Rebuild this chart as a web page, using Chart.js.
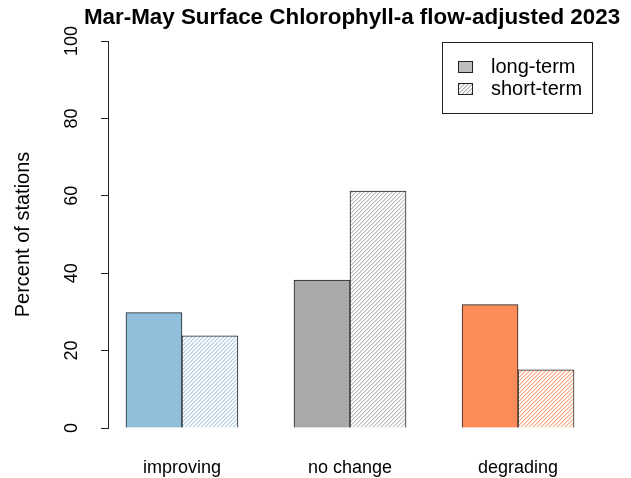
<!DOCTYPE html>
<html>
<head>
<meta charset="utf-8">
<script src="https://cdn.jsdelivr.net/npm/chart.js@4/dist/chart.umd.min.js"></script>
<style>
  html, body { margin: 0; padding: 0; background: #fff; }
  #wrap { width: 631px; height: 478px; }
</style>
</head>
<body>
<div id="wrap"><canvas id="myChart" width="631" height="478"></canvas></div>
<script>
const chartTitle = 'Mar-May Surface Chlorophyll-a flow-adjusted 2023';
const categories = ['improving', 'no change', 'degrading'];
const groupPos = [2, 5, 8]; // group centres in barplot units
const seriesNames = ['long-term', 'short-term'];
const longTerm = [29.8, 38.2, 31.9];
const shortTerm = [23.8, 61.2, 15.0];
const yTicks = [0, 20, 40, 60, 80, 100];
const barColors = ['#91BFDB', '#A9A9A9', '#FC8D59'];

const FONT = '"Liberation Sans", Arial, Helvetica, sans-serif';
const INK = '#222222';

// diagonal hatch like R's density/angle=45, built pixel by pixel
function hatch(color) {
  const c = document.createElement('canvas');
  c.width = 4; c.height = 4;
  const g = c.getContext('2d');
  g.fillStyle = '#ffffff';
  g.fillRect(0, 0, 4, 4);
  g.fillStyle = color;
  for (let r = 0; r < 4; r++) {
    g.globalAlpha = 0.75;
    g.fillRect(3 - r, r, 1, 1);
    g.globalAlpha = 0.4;
    g.fillRect((4 - r) % 4, r, 1, 1);
  }
  return g.createPattern(c, 'repeat');
}

const extras = {
  id: 'extras',
  afterDraw(chart) {
    const ctx = chart.ctx;
    const area = chart.chartArea;
    const y = chart.scales.y;
    ctx.save();
    ctx.fillStyle = '#000';

    // title
    ctx.font = 'bold 22.4px ' + FONT;
    ctx.textAlign = 'center';
    ctx.textBaseline = 'middle';
    ctx.fillText(chartTitle, (area.left + area.right) / 2 + 2, 18);

    // rotated y tick labels
    ctx.font = '18px ' + FONT;
    yTicks.forEach(v => {
      ctx.save();
      ctx.translate(area.left - 36, y.getPixelForValue(v));
      ctx.rotate(-Math.PI / 2);
      ctx.fillText(String(v), 0, 0);
      ctx.restore();
    });

    // legend box
    const lx = 442, ly = 42, lw = 150, lh = 71;
    ctx.font = '20px ' + FONT;
    ctx.lineWidth = 1;
    ctx.strokeStyle = INK;
    ctx.strokeRect(lx + 0.5, ly + 0.5, lw, lh);
    const fills = ['#BEBEBE', hatch('#9A9A9A')];
    seriesNames.forEach((name, i) => {
      const cy = ly + 25 + i * 22;
      ctx.fillStyle = fills[i];
      ctx.fillRect(lx + 16, cy - 6, 14, 11);
      ctx.strokeRect(lx + 16.5, cy - 5.5, 14, 11);
      ctx.fillStyle = '#000';
      ctx.textAlign = 'left';
      ctx.fillText(name, lx + 49, cy);
    });
    ctx.restore();
  }
};

new Chart(document.getElementById('myChart'), {
  type: 'bar',
  data: {
    datasets: [
      {
        label: seriesNames[0],
        data: longTerm.map((v, i) => ({ x: groupPos[i], y: v })),
        backgroundColor: barColors,
        borderColor: INK,
        borderWidth: 1
      },
      {
        label: seriesNames[1],
        data: shortTerm.map((v, i) => ({ x: groupPos[i], y: v })),
        backgroundColor: ctx => hatch(barColors[ctx.dataIndex]),
        borderColor: INK,
        borderWidth: 1
      }
    ]
  },
  options: {
    responsive: false,
    animation: false,
    barThickness: 56,
    layout: { padding: { top: 41, right: 39, left: 0, bottom: 0 } },
    plugins: {
      legend: { display: false },
      title: { display: false },
      tooltip: { enabled: false }
    },
    scales: {
      x: {
        type: 'linear',
        offset: false,
        min: 0.68,
        max: 9.32,
        afterBuildTicks: axis => { axis.ticks = groupPos.map(v => ({ value: v })); },
        afterFit: axis => { axis.height = 50; },
        grid: { display: false, drawTicks: false },
        border: { display: false },
        ticks: {
          autoSkip: false,
          maxRotation: 0,
          padding: 29,
          color: '#000',
          font: { family: FONT, size: 18 },
          callback: v => categories[groupPos.indexOf(v)]
        }
      },
      y: {
        min: 0,
        max: 100,
        afterBuildTicks: axis => { axis.ticks = yTicks.map(v => ({ value: v })); },
        afterFit: axis => { axis.width = 108; },
        grid: { drawOnChartArea: false, tickLength: 7, color: INK },
        border: { display: true, color: INK },
        ticks: { display: false },
        title: {
          display: true,
          text: 'Percent of stations',
          color: '#000',
          font: { family: FONT, size: 20 },
          padding: { top: 11, bottom: 0 }
        }
      }
    }
  },
  plugins: [extras]
});
</script>
</body>
</html>
